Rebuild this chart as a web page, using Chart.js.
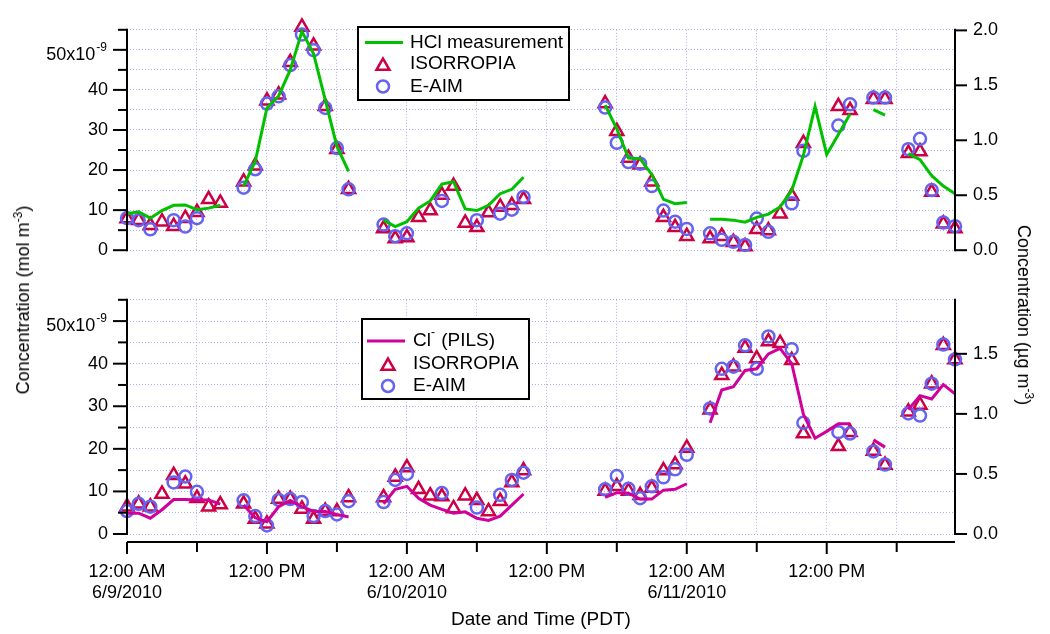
<!doctype html>
<html lang="en">
<head>
<meta charset="utf-8">
<title>HCl and particulate chloride, 6/9/2010 - 6/11/2010</title>
<style>
  body { margin: 0; background: #fff; }
  #wrap { position: relative; width: 1050px; height: 634px; overflow: hidden;
          font-family: 'Liberation Sans', Arial, sans-serif; color: #000; }
  #wrap canvas { position: absolute; left: 0; }
  #top { top: 0; }
  #bottom { top: 270px; }
  .ytitle { position: absolute; white-space: nowrap; font-size: 18px; line-height: 1; }
  .ytitle sup { font-size: 12px; }
  #ytitle-left { left: 22px; top: 300px; transform: translate(-50%, -50%) rotate(-90deg); }
  #ytitle-right { left: 1025px; top: 315px; transform: translate(-50%, -50%) rotate(90deg); }
</style>
</head>
<body>
<div id="wrap">
  <canvas id="top" width="1050" height="280"></canvas>
  <canvas id="bottom" width="1050" height="364"></canvas>
  <div class="ytitle" id="ytitle-left">Concentration (mol m<sup>-3</sup>)</div>
  <div class="ytitle" id="ytitle-right">Concentration (µg m<sup>-3</sup>)</div>
</div>

<script src="https://cdn.jsdelivr.net/npm/chart.js@4/dist/chart.umd.min.js"></script>
<script>
// hours since 12:00 AM 6/9/2010 (PDT)
const HOURS = [
  0, 1, 2, 3, 4, 5, 6, 7, 8, 9, 10, 11, 12, 13, 14, 15, 16, 17, 18, 19, 20, 21, 22, 23,
  24, 25, 26, 27, 28, 29, 30, 31, 32, 33, 34, 35, 36, 37, 38, 39, 40, 41, 42, 43, 44, 45, 46, 47,
  48, 49, 50, 51, 52, 53, 54, 55, 56, 57, 58, 59, 60, 61, 62, 63, 64, 65, 66, 67, 68, 69, 70, 71
];
const X_TICKS = [0, 6, 12, 18, 24, 30, 36, 42, 48, 54, 60, 66];
const X_TICK_TEXT = [
  ['12:00 AM', '6/9/2010'], '', '12:00 PM', '',
  ['12:00 AM', '6/10/2010'], '', '12:00 PM', '',
  ['12:00 AM', '6/11/2010'], '', '12:00 PM', ''
];
const Y_TICKS = [0, 5, 10, 15, 20, 25, 30, 35, 40, 45, 50, 55];   // x10^-9 mol m-3
const Y_MAX = 55;
const RIGHT_TICKS_TOP = [0, 0.5, 1.0, 1.5, 2.0];
const RIGHT_TICKS_BOTTOM = [0, 0.5, 1.0, 1.5];
const HCL_MW = 36.46;
const CL_MW = 35.45;

const TOP_LEGEND = ['HCl measurement', 'ISORROPIA', 'E-AIM'];
const BOTTOM_LEGEND = [['Cl', '-', ' (PILS)'], 'ISORROPIA', 'E-AIM'];

// top panel: gas phase HCl (x10^-9 mol m-3)
const hclMeas = [
  9.1, 9.6, 8.0, 9.9, 11.2, 11.3, 10.1, 10.5, 11.2, null, 16.0, 22.2,
  35.5, 38.5, 45.0, 54.6, 49.0, 37.5, 25.9, 19.7, null, null, 7.5, 5.9,
  7.1, 10.5, 12.3, 16.5, 17.1, 10.3, 9.9, 11.2, 14.1, 15.2, 18.2, null,
  null, null, null, null, null, 36.2, 30.3, 23.0, 22.8, 18.9, 12.7, 11.6,
  11.9, null, 7.7, 7.7, 7.5, 7.0, 8.2, 9.0, 10.8, 14.9, 23.7, 35.9,
  23.9, 28.9, 34.0, null, 35.1, 33.7, null, 24.1, 22.6, 18.6, 16.0, 14.1
];
const isoGas = [
  7.9, 7.5, 6.2, 7.1, 6.0, 8.0, 9.5, 12.7, 11.8, null, 17.1, 21.1,
  37.3, 38.8, 46.9, 55.7, 51.0, 35.9, 25.2, 15.2, null, null, 5.4, 2.9,
  3.2, 8.2, 9.9, 13.8, 16.0, 6.8, 5.7, 9.4, 10.8, 11.2, 12.7, null,
  null, null, null, null, null, 36.6, 29.7, 23.0, 21.3, 17.1, 8.2, 5.7,
  3.5, null, 2.9, 3.5, 2.0, 0.9, 5.2, 4.9, 9.1, 13.5, 26.7, null,
  null, 35.9, 34.9, null, 37.7, 37.7, null, 24.2, 24.6, 14.5, 6.6, 5.4
];
const eaimGas = [
  8.0, 7.5, 5.2, null, 7.5, 5.9, 8.0, null, null, null, 15.6, 20.2,
  36.6, 38.4, 46.2, 53.8, 49.9, 35.5, 25.5, 15.2, null, null, 6.4, 3.5,
  4.2, null, null, 12.3, null, null, 7.5, null, 9.1, 10.1, 13.3, null,
  null, null, null, null, null, 35.6, 26.8, 22.0, 21.6, 16.0, 9.9, 7.1,
  5.3, null, 4.2, 2.6, 2.1, 1.3, 7.9, 4.6, null, 11.7, 24.8, null,
  null, 31.1, 36.4, null, 38.1, 38.1, null, 25.2, 27.8, 15.0, 6.9, 6.0
];

// bottom panel: particulate chloride (x10^-9 mol m-3)
const pilsCl = [
  4.9, 4.9, 3.7, 5.7, 8.1, 8.1, 8.0, 8.0, 7.0, null, 6.8, 3.8,
  2.9, 6.4, 7.9, 6.4, 5.3, 5.3, 4.6, 4.0, null, null, 7.1, 10.5,
  11.2, 8.4, 6.8, 5.8, 4.9, 5.2, 3.7, 3.2, 4.2, 6.8, 9.4, null,
  null, null, null, null, null, 8.6, 9.7, 9.6, 8.2, 8.2, 10.3, 10.5,
  11.8, null, 26.1, 33.8, 34.6, 38.4, 38.8, 42.3, 43.6, 40.0, 28.1, 22.5,
  24.1, 25.9, 25.9, null, 22.1, 20.4, null, 29.2, 32.5, 31.7, 35.1, 32.9
];
const isoAer = [
  6.4, 7.1, 6.4, 9.4, 13.8, 11.8, 8.4, 6.4, 6.9, null, 7.1, 3.5,
  2.4, 8.2, 8.2, 5.9, 3.5, 5.4, 5.3, 8.6, null, null, 8.6, 13.4,
  15.6, 10.5, 9.0, 8.8, 6.0, 9.0, 7.9, 5.3, 7.7, 12.1, 14.9, null,
  null, null, null, null, null, 10.1, 11.2, 10.1, 9.1, 10.8, 14.9, 16.3,
  20.2, null, 29.2, 37.3, 39.3, 43.7, 41.2, 45.2, 44.8, 40.8, 23.6, null,
  null, 20.6, 23.9, null, 19.5, 16.2, null, 28.7, 30.3, 35.3, 44.3, 41.0
];
const eaimAer = [
  5.4, 7.1, 6.4, null, 12.1, 13.5, 9.9, null, null, null, 7.9, 4.2,
  2.0, 8.0, 8.2, 7.5, 4.2, 5.4, 4.6, 7.7, null, null, 7.5, 12.7,
  14.1, null, null, 9.6, null, null, 6.2, null, 9.2, 12.7, 14.4, null,
  null, null, null, null, null, 10.5, 13.6, 10.6, 8.4, 11.2, 13.3, 15.2,
  18.6, null, 29.5, 38.8, 39.3, 44.3, 38.8, 46.4, null, 43.4, 26.1, null,
  null, 23.9, 23.6, null, 19.4, 16.3, null, 28.3, 27.8, 35.3, 44.5, 41.0
];

const FONT = "'Liberation Sans', Arial, sans-serif";
const GREEN = '#00c000';
const RED = '#cc0044';
const BLUE = '#6464f0';
const PINK = '#d0009a';
const GRID_COLOR = 'rgb(175,175,238)';

Chart.defaults.font.family = FONT;
Chart.defaults.color = '#000';

const pts = vals => HOURS.map((h, i) => ({ x: h, y: vals[i] }));

const lineSet = (label, vals, color) => ({
  label, data: pts(vals), yAxisID: 'y',
  borderColor: color, borderWidth: 3, pointRadius: 0,
  spanGaps: false, tension: 0, clip: false
});
const markerSet = (label, vals, color, style, r) => ({
  label, data: pts(vals), yAxisID: 'y', showLine: false,
  borderColor: color, backgroundColor: 'rgba(0,0,0,0)',
  pointStyle: style, pointRadius: r, pointBorderWidth: 2.5, clip: false
});

// axis lines and tick marks drawn Igor-style (x axis offset below the plot)
const axisFrame = {
  id: 'axisFrame',
  afterDraw(chart, args, opts) {
    const { ctx, chartArea: a, scales } = chart;
    const seg = (x1, y1, x2, y2) => { ctx.beginPath(); ctx.moveTo(x1, y1); ctx.lineTo(x2, y2); ctx.stroke(); };
    ctx.save();
    ctx.strokeStyle = '#000';
    ctx.lineWidth = 2;
    seg(a.left, a.top - 1, a.left, a.bottom + 1);
    scales.y.ticks.forEach(t => {
      const y = scales.y.getPixelForValue(t.value);
      seg(a.left - (t.value % 10 === 0 ? 14 : 9), y, a.left, y);
    });
    seg(a.right, a.top - 1, a.right, a.bottom + 1);
    scales.y2.ticks.forEach(t => {
      const y = scales.y2.getPixelForValue(t.value);
      seg(a.right, y, a.right + 12, y);
    });
    if (opts.xAxis) {
      const yb = a.bottom + 8;
      seg(a.left, yb, a.right, yb);
      scales.x.ticks.forEach(t => {
        const x = scales.x.getPixelForValue(t.value);
        seg(x, yb, x, yb + (t.value % 12 === 0 ? 12 : 10));
      });
    }
    // "50x10^-9" label
    const y50 = scales.y.getPixelForValue(50);
    ctx.fillStyle = '#000';
    ctx.textAlign = 'right';
    ctx.textBaseline = 'middle';
    ctx.font = '12px ' + FONT;
    const supW = ctx.measureText('-9').width;
    ctx.fillText('-9', a.left - 20, y50 - 2);
    ctx.font = '18px ' + FONT;
    ctx.fillText('50x10', a.left - 21 - supW, y50 + 5);
    ctx.restore();
  }
};

// boxed legend inside the plot
const boxLegend = {
  id: 'boxLegend',
  afterDraw(chart, args, o) {
    if (!o || !o.box) return;
    const ctx = chart.ctx;
    const [bx, by, bw, bh] = o.box;
    ctx.save();
    ctx.fillStyle = '#fff';
    ctx.fillRect(bx, by, bw, bh);
    ctx.strokeStyle = '#000';
    ctx.lineWidth = 2;
    ctx.strokeRect(bx, by, bw, bh);
    o.items.forEach((dsIndex, row) => {
      const ds = chart.data.datasets[dsIndex];
      const y = o.rows[row];
      ctx.strokeStyle = ds.borderColor;
      if (ds.showLine === false) {
        ctx.lineWidth = ds.pointBorderWidth;
        ctx.fillStyle = 'rgba(0,0,0,0)';
        const yy = ds.pointStyle === 'triangle' ? y + 2 : y;
        Chart.helpers.drawPoint(ctx, { pointStyle: ds.pointStyle, radius: ds.pointRadius, borderWidth: ds.pointBorderWidth, rotation: 0 }, o.markX, yy);
      } else {
        ctx.lineWidth = ds.borderWidth;
        ctx.beginPath();
        ctx.moveTo(o.lineX[0], y);
        ctx.lineTo(o.lineX[1], y);
        ctx.stroke();
      }
      const parts = Array.isArray(o.text[row]) ? o.text[row] : [o.text[row]];
      ctx.fillStyle = '#000';
      ctx.textAlign = 'left';
      ctx.textBaseline = 'middle';
      let x = o.textX;
      parts.forEach((p, k) => {
        const sup = parts.length > 1 && k === 1;
        ctx.font = (sup ? '12px ' : '19px ') + FONT;
        ctx.fillText(p, x, sup ? y - 8 : y);
        x += ctx.measureText(p).width + (sup ? 1 : 0);
      });
    });
    ctx.restore();
  }
};

function panelOptions(cfg) {
  const grid = { color: GRID_COLOR, lineWidth: 1, drawTicks: false };
  return {
    responsive: false,
    animation: false,
    devicePixelRatio: 1,
    events: [],
    layout: { padding: { top: 15, left: 0, right: 0, bottom: 0 } },
    plugins: {
      legend: { display: false },
      tooltip: { enabled: false },
      axisFrame: { xAxis: cfg.showX },
      boxLegend: cfg.legend
    },
    scales: {
      x: {
        type: 'linear', min: 0, max: 71,
        afterBuildTicks: s => { s.ticks = X_TICKS.map(v => ({ value: v })); },
        afterFit: s => { s.height = cfg.showX ? 100 : 16; },
        grid,
        border: { display: false, dash: [1, 2] },
        ticks: {
          display: cfg.showX, padding: 27, maxRotation: 0, autoSkip: false,
          font: { size: 18 },
          callback: v => { const i = X_TICKS.indexOf(v); return i < 0 ? '' : X_TICK_TEXT[i]; }
        },
        title: {
          display: cfg.showX, text: 'Date and Time (PDT)',
          font: { size: 19 }, padding: { top: 0, bottom: 3 }
        }
      },
      y: {
        position: 'left', min: 0, max: Y_MAX,
        afterBuildTicks: s => { s.ticks = Y_TICKS.map(v => ({ value: v })); },
        afterFit: s => { s.width = 127; },
        grid,
        border: { display: false, dash: [1, 2] },
        ticks: {
          padding: 19, autoSkip: false, font: { size: 18 },
          callback: v => (v % 10 === 0 && v < 50) ? String(v) : ''
        }
      },
      y2: {
        position: 'right', min: 0, max: Y_MAX * cfg.mw / 1000,
        afterBuildTicks: s => { s.ticks = cfg.rightTicks.map(v => ({ value: v })); },
        afterFit: s => { s.width = 95; },
        grid: { display: false, drawTicks: false },
        border: { display: false },
        ticks: { padding: 18, autoSkip: false, font: { size: 18 }, callback: v => v.toFixed(1) }
      }
    }
  };
}

new Chart(document.getElementById('top'), {
  type: 'line',
  data: {
    datasets: [
      lineSet('HCl measurement', hclMeas, GREEN),
      markerSet('E-AIM', eaimGas, BLUE, 'circle', 6),
      markerSet('ISORROPIA', isoGas, RED, 'triangle', 7.5)
    ]
  },
  options: panelOptions({
    showX: false, mw: HCL_MW, rightTicks: RIGHT_TICKS_TOP,
    legend: {
      box: [358, 27, 211, 73], rows: [42.5, 64, 86.5],
      lineX: [365, 403], markX: 383, textX: 410,
      items: [0, 2, 1], text: TOP_LEGEND
    }
  }),
  plugins: [axisFrame, boxLegend]
});

new Chart(document.getElementById('bottom'), {
  type: 'line',
  data: {
    datasets: [
      lineSet('Cl- (PILS)', pilsCl, PINK),
      markerSet('E-AIM', eaimAer, BLUE, 'circle', 6),
      markerSet('ISORROPIA', isoAer, RED, 'triangle', 7.5)
    ]
  },
  options: panelOptions({
    showX: true, mw: CL_MW, rightTicks: RIGHT_TICKS_BOTTOM,
    legend: {
      box: [362, 49, 167, 80], rows: [71, 94, 116],
      lineX: [367, 405], markX: 388, textX: 413,
      items: [0, 2, 1], text: BOTTOM_LEGEND
    }
  }),
  plugins: [axisFrame, boxLegend]
});
</script>
</body>
</html>
